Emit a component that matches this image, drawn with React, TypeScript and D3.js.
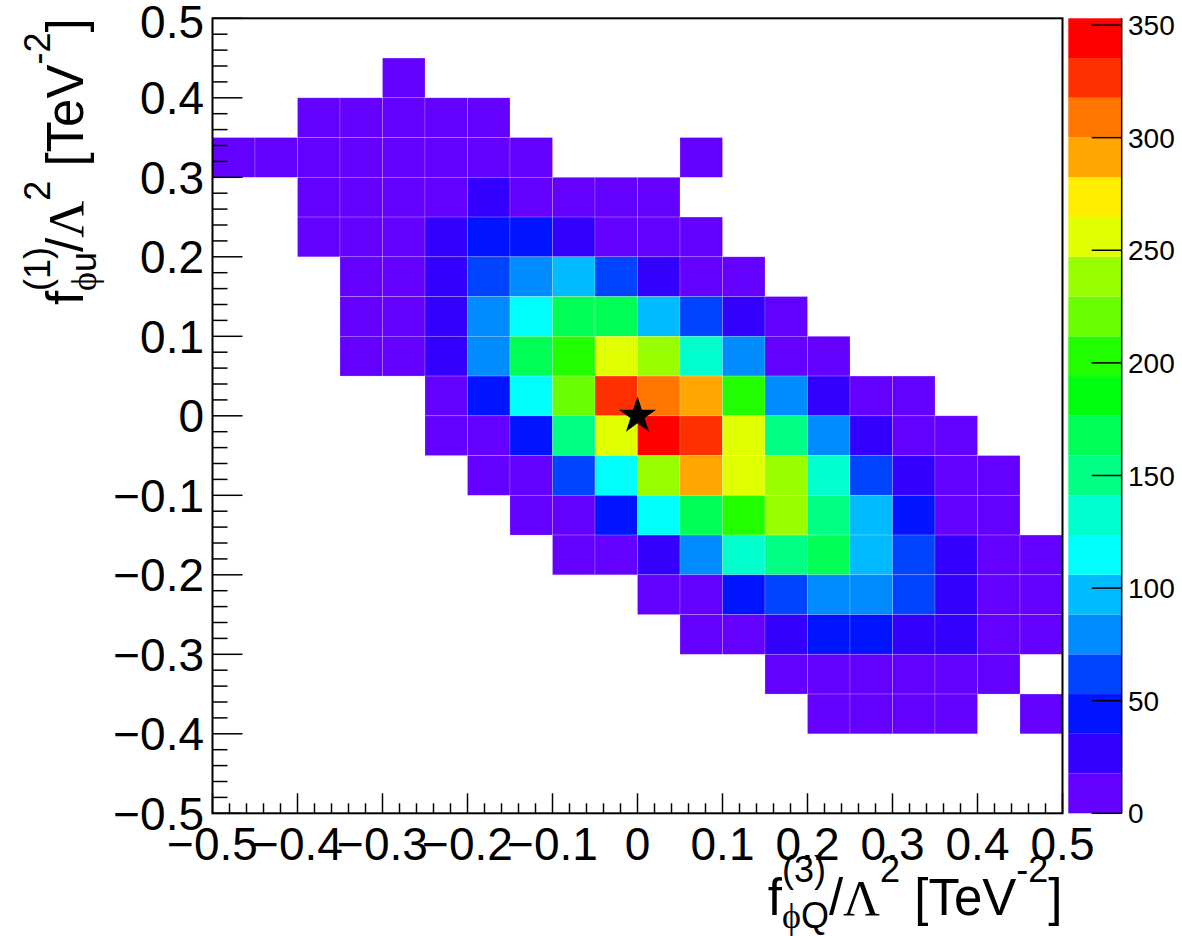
import React from "react";
import * as d3 from "d3";

// ---------- data ----------
const xBinLow = [-0.5, -0.45, -0.4, -0.35, -0.3, -0.25, -0.2, -0.15, -0.1, -0.05, 0.0, 0.05, 0.1, 0.15, 0.2, 0.25, 0.3, 0.35, 0.4, 0.45];
const binWidth = 0.05;
// y bin lower edges, from top row to bottom row
const yBinLow = [0.45, 0.4, 0.35, 0.3, 0.25, 0.2, 0.15, 0.1, 0.05, 0.0, -0.05, -0.1, -0.15, -0.2, -0.25, -0.3, -0.35, -0.4, -0.45, -0.5];
// bin contents (rows from top to bottom, columns from left to right)
const counts: number[][] = [
  [0, 0, 0, 0, 0, 0, 0, 0, 0, 0, 0, 0, 0, 0, 0, 0, 0, 0, 0, 0],
  [0, 0, 0, 0, 9, 0, 0, 0, 0, 0, 0, 0, 0, 0, 0, 0, 0, 0, 0, 0],
  [0, 0, 9, 9, 9, 9, 9, 0, 0, 0, 0, 0, 0, 0, 0, 0, 0, 0, 0, 0],
  [9, 9, 9, 9, 9, 9, 9, 9, 0, 0, 0, 9, 0, 0, 0, 0, 0, 0, 0, 0],
  [0, 0, 9, 9, 9, 9, 26, 9, 9, 9, 9, 0, 0, 0, 0, 0, 0, 0, 0, 0],
  [0, 0, 9, 9, 9, 26, 44, 44, 26, 9, 9, 9, 0, 0, 0, 0, 0, 0, 0, 0],
  [0, 0, 0, 9, 9, 26, 62, 79, 97, 62, 26, 9, 9, 0, 0, 0, 0, 0, 0, 0],
  [0, 0, 0, 9, 9, 26, 79, 115, 168, 168, 97, 62, 26, 9, 0, 0, 0, 0, 0, 0],
  [0, 0, 0, 9, 9, 26, 79, 168, 203, 256, 238, 132, 79, 9, 9, 0, 0, 0, 0, 0],
  [0, 0, 0, 0, 0, 9, 44, 115, 221, 327, 309, 291, 203, 79, 26, 9, 9, 0, 0, 0],
  [0, 0, 0, 0, 0, 9, 9, 44, 150, 256, 353, 327, 256, 150, 79, 26, 9, 9, 0, 0],
  [0, 0, 0, 0, 0, 0, 9, 9, 62, 115, 238, 291, 256, 238, 132, 62, 26, 9, 9, 0],
  [0, 0, 0, 0, 0, 0, 0, 9, 9, 44, 115, 168, 203, 238, 150, 97, 44, 9, 9, 0],
  [0, 0, 0, 0, 0, 0, 0, 0, 9, 9, 26, 79, 132, 150, 168, 97, 62, 26, 9, 9],
  [0, 0, 0, 0, 0, 0, 0, 0, 0, 0, 9, 9, 44, 62, 79, 79, 62, 26, 9, 9],
  [0, 0, 0, 0, 0, 0, 0, 0, 0, 0, 0, 9, 9, 26, 44, 44, 26, 26, 9, 9],
  [0, 0, 0, 0, 0, 0, 0, 0, 0, 0, 0, 0, 0, 9, 9, 9, 9, 9, 9, 0],
  [0, 0, 0, 0, 0, 0, 0, 0, 0, 0, 0, 0, 0, 0, 9, 9, 9, 9, 0, 9],
  [0, 0, 0, 0, 0, 0, 0, 0, 0, 0, 0, 0, 0, 0, 0, 0, 0, 0, 0, 0],
  [0, 0, 0, 0, 0, 0, 0, 0, 0, 0, 0, 0, 0, 0, 0, 0, 0, 0, 0, 0],
];
const zMax = 353;
const axisTicks = [-0.5, -0.4, -0.3, -0.2, -0.1, 0, 0.1, 0.2, 0.3, 0.4, 0.5];
const axisTickLabels = ["\u22120.5", "\u22120.4", "\u22120.3", "\u22120.2", "\u22120.1", "0", "0.1", "0.2", "0.3", "0.4", "0.5"];
const zTicks = [0, 50, 100, 150, 200, 250, 300, 350];
const zTickLabels = ["0", "50", "100", "150", "200", "250", "300", "350"];
const starPoint = { x: 0, y: 0 };
const palette = [
  "#6300ff", "#3300ff", "#0014ff", "#0044ff", "#008bff",
  "#00bbff", "#00fffc", "#00ffcc", "#00ff85", "#00ff55",
  "#00ff0e", "#22ff00", "#69ff00", "#99ff00", "#e0ff00",
  "#ffee00", "#ffa700", "#ff7700", "#ff3000", "#ff0000",
];

// ---------- layout ----------
const W = 1182;
const H = 936;
const L = 212.5, R = 1062.5, T = 18.3, B = 813.3;
const CBX0 = 1068.3, CBX1 = 1121.7;
const FONT = "'Liberation Sans', Arial, Helvetica, sans-serif";
const SERIF = "'Liberation Serif', 'DejaVu Serif', serif";
const TF = 51; // title font
const SF = 36; // sub/superscript font

export default function App() {
  const x = d3.scaleLinear().domain([-0.5, 0.5]).range([L, R]);
  const y = d3.scaleLinear().domain([-0.5, 0.5]).range([B, T]);
  const z = d3.scaleLinear().domain([0, zMax]).range([B, T]);
  const color = d3.scaleQuantize<string>().domain([0, zMax]).range(palette);

  const cells: { xl: number; yl: number; v: number }[] = [];
  counts.forEach((row, ri) =>
    row.forEach((v, ci) => {
      if (v > 0) cells.push({ xl: xBinLow[ci], yl: yBinLow[ri], v });
    })
  );

  const minor = d3.range(-0.5, 0.5001, 0.02).filter(
    (v) => Math.abs(Math.round(v * 10) - v * 10) > 1e-6
  );
  const bandW = zMax / palette.length;
  const star = d3.symbol().type(d3.symbolStar).size(430)();

  const titleParts = (sup1: string, sub1: string, subRest: string) => (
    <>
      <tspan>f</tspan>
      <tspan fontSize={SF} dy={-33}>{sup1}</tspan>
      <tspan fontSize={SF} dx={-44} dy={46} fontFamily={SERIF}>{"\u03d5"}</tspan>
      <tspan fontSize={SF}>{subRest}</tspan>
      <tspan dy={-13}>/</tspan>
      <tspan fontFamily={SERIF}>{"\u039b"}</tspan>
      <tspan fontSize={SF} dy={-33}>2</tspan>
      <tspan dy={33}>{" [TeV"}</tspan>
      <tspan fontSize={SF} dy={-33}>-2</tspan>
      <tspan dy={33}>]</tspan>
    </>
  );

  return (
    <svg
      width={W}
      height={H}
      style={{ position: "absolute", left: 0, top: 0, display: "block", background: "#fff" }}
      fontFamily={FONT}
    >
      <rect x={0} y={0} width={W} height={H} fill="#fff" />
      {/* cells */}
      {cells.map((c, i) => (
        <rect
          key={i}
          x={x(c.xl)}
          y={y(c.yl + binWidth)}
          width={x(c.xl + binWidth) - x(c.xl)}
          height={y(c.yl) - y(c.yl + binWidth)}
          fill={color(c.v)}
          stroke="rgba(255,255,255,0.28)"
          strokeWidth={0.7}
        />
      ))}
      {/* star marker */}
      <path d={star || ""} transform={`translate(${x(starPoint.x)},${y(starPoint.y)})`} fill="#000" />
      {/* frame */}
      <rect x={L} y={T} width={R - L} height={B - T} fill="none" stroke="#000" strokeWidth={2} />
      {/* y axis ticks */}
      {axisTicks.map((v) => (
        <line key={"ym" + v} x1={L} x2={L + 30} y1={y(v)} y2={y(v)} stroke="#000" strokeWidth={1.5} />
      ))}
      {minor.map((v) => (
        <line key={"yn" + v} x1={L} x2={L + 15} y1={y(v)} y2={y(v)} stroke="#000" strokeWidth={1.5} />
      ))}
      {/* x axis ticks */}
      {axisTicks.map((v) => (
        <line key={"xm" + v} x1={x(v)} x2={x(v)} y1={B} y2={B - 20} stroke="#000" strokeWidth={1.5} />
      ))}
      {minor.map((v) => (
        <line key={"xn" + v} x1={x(v)} x2={x(v)} y1={B} y2={B - 10} stroke="#000" strokeWidth={1.5} />
      ))}
      {/* y tick labels */}
      {axisTicks.map((v, i) => (
        <text
          key={"yl" + v}
          x={204}
          y={Math.max(y(v), T + 3)}
          dy="0.36em"
          textAnchor="end"
          fontSize={46}
        >
          {axisTickLabels[i]}
        </text>
      ))}
      {/* x tick labels */}
      {axisTicks.map((v, i) => (
        <text key={"xl" + v} x={x(v)} y={860} textAnchor="middle" fontSize={46}>
          {axisTickLabels[i]}
        </text>
      ))}
      {/* x title */}
      <text x={R} y={915} textAnchor="end" fontSize={TF} style={{ whiteSpace: "pre" }}>
        {titleParts("(3)", "\u03d5", "Q")}
      </text>
      {/* y title */}
      <g transform={`translate(83,${T}) rotate(-90)`}>
        <text x={0} y={0} textAnchor="end" fontSize={TF} style={{ whiteSpace: "pre" }}>
          {titleParts("(1)", "\u03d5", "u")}
        </text>
      </g>
      {/* color bar */}
      {palette.map((c, i) => (
        <rect
          key={"cb" + i}
          x={CBX0}
          y={z((i + 1) * bandW)}
          width={CBX1 - CBX0}
          height={z(i * bandW) - z((i + 1) * bandW)}
          fill={c}
        />
      ))}
      <line x1={CBX1} x2={CBX1} y1={T} y2={B} stroke="#000" strokeWidth={1.5} />
      {zTicks.map((v) => (
        <line key={"zt" + v} x1={CBX1 - 30} x2={CBX1} y1={z(v)} y2={z(v)} stroke="#000" strokeWidth={1.5} />
      ))}
      {zTicks.map((v, i) => (
        <text key={"zl" + v} x={1128} y={z(v)} dy="0.36em" fontSize={28}>
          {zTickLabels[i]}
        </text>
      ))}
    </svg>
  );
}
